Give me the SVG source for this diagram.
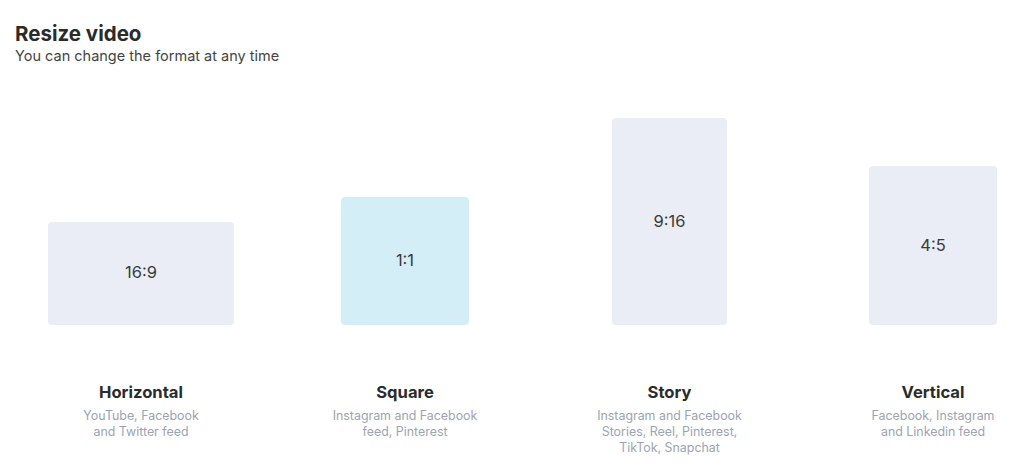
<svg xmlns="http://www.w3.org/2000/svg" width="1024" height="476" viewBox="0 0 1024 476">
<style>
.title{font-family:Inter,"Noto Sans",sans-serif;font-weight:700;font-size:20.5px;fill:#2b2b2b}
.sub{font-family:Inter,"Noto Sans",sans-serif;font-size:14.5px;fill:#444}
.box{fill:#eaedf5}
.sel{fill:#d3eef7}
.ratio{font-family:Inter,"Noto Sans",sans-serif;font-size:16.5px;fill:#3a3a3a;text-anchor:middle;dominant-baseline:central}
.name{font-family:Inter,"Noto Sans",sans-serif;font-weight:700;font-size:16.6px;fill:#2b2b2b;text-anchor:middle}
.desc{font-family:Inter,"Noto Sans",sans-serif;font-size:12.4px;fill:#9ba4b2;text-anchor:middle}
</style>
<rect width="1024" height="476" fill="#fff"/>
<text class="title" x="15" y="41">Resize video</text>
<text class="sub" x="15" y="61">You can change the format at any time</text>
<g id="horizontal">
<rect class="box" x="48" y="222" width="186" height="103" rx="4"/>
<text class="ratio" x="141" y="272">16:9</text>
<text class="name" x="141" y="398">Horizontal</text>
<text class="desc" x="141" y="420">YouTube, Facebook</text>
<text class="desc" x="141" y="436">and Twitter feed</text>
</g>
<g id="square">
<rect class="sel" x="341" y="197" width="128" height="128" rx="4"/>
<text class="ratio" x="405" y="260">1:1</text>
<text class="name" x="405" y="398">Square</text>
<text class="desc" x="405" y="420">Instagram and Facebook</text>
<text class="desc" x="405" y="436">feed, Pinterest</text>
</g>
<g id="story">
<rect class="box" x="612" y="118" width="115" height="207" rx="4"/>
<text class="ratio" x="669.5" y="221">9:16</text>
<text class="name" x="669.5" y="398">Story</text>
<text class="desc" x="669.5" y="420">Instagram and Facebook</text>
<text class="desc" x="669.5" y="436">Stories, Reel, Pinterest,</text>
<text class="desc" x="669.5" y="452">TikTok, Snapchat</text>
</g>
<g id="vertical">
<rect class="box" x="869" y="166" width="128" height="159" rx="4"/>
<text class="ratio" x="933" y="245">4:5</text>
<text class="name" x="933" y="398">Vertical</text>
<text class="desc" x="933" y="420">Facebook, Instagram</text>
<text class="desc" x="933" y="436">and Linkedin feed</text>
</g>
<g id="connectors"></g>
</svg>
